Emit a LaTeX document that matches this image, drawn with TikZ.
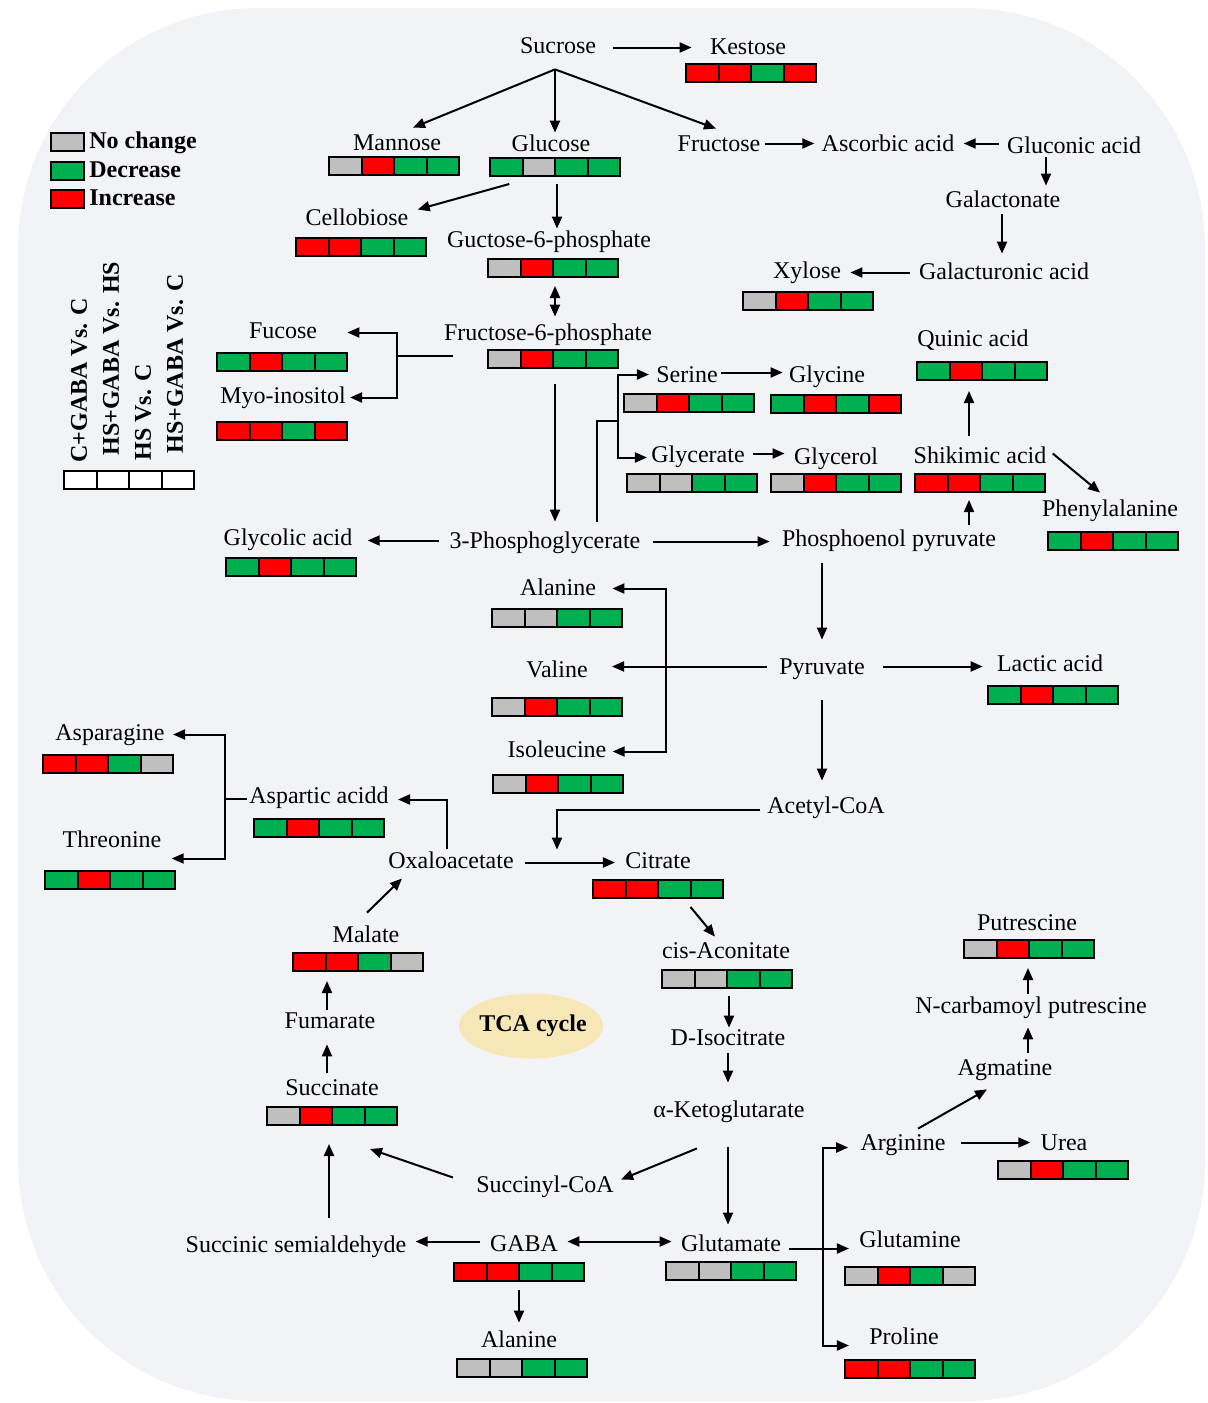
\documentclass[tikz,border=0pt]{standalone}
\usepackage{fontspec}
\setmainfont{Liberation Serif}
\usetikzlibrary{shapes.geometric, arrows.meta, positioning, calc}

\definecolor{decr}{RGB}{0,176,80}
\definecolor{incr}{RGB}{255,0,0}
\definecolor{nochg}{RGB}{191,191,191}
\definecolor{panel}{RGB}{242,243,247}
\definecolor{tcafill}{RGB}{247,231,183}

\tikzstyle{met} = [inner sep=0pt, anchor=base, text height=8pt, text depth=2.5pt]
\tikzstyle{cell} = [rectangle, draw=black, line width=1pt, minimum width=16.25pt, minimum height=9pt, inner sep=0pt, anchor=north west]
\tikzstyle{legtxt} = [inner sep=0pt, anchor=base west, font=\fontsize{12}{14}\selectfont\bfseries]
\tikzstyle{colhead} = [inner sep=0pt, anchor=west, rotate=90, font=\fontsize{12}{14}\selectfont\bfseries]
\tikzstyle{link} = [line width=1pt]
\tikzstyle{arrow} = [line width=1pt, -{Triangle[length=6pt,width=5pt]}]
\tikzstyle{dblarrow} = [line width=1pt, {Triangle[length=6pt,width=5pt]}-{Triangle[length=6pt,width=5pt]}]

\newcommand{\cellbar}[4]{%
    \foreach \cl [count=\i from 0] in {#4}
        \node (#1\i) [cell, fill=\cl] at (#2+\i*32.5,#3) {};
}

\begin{document}
\begin{tikzpicture}[x=0.5pt, y=-0.5pt, font=\fontsize{12}{14}\selectfont]
    \useasboundingbox (0,0) rectangle (1208,1403);
    \fill[panel, rounded corners=120pt] (18,8) rectangle (1205,1401);

    \node (lg1) [cell, fill=nochg] at (50,132) {};
    \node (lg2) [cell, fill=decr] at (50,161) {};
    \node (lg3) [cell, fill=incr] at (50,189) {};
    \node (lgt1) [legtxt] at (89,148) {No change};
    \node (lgt2) [legtxt] at (89,177) {Decrease};
    \node (lgt3) [legtxt] at (89,205) {Increase};

    \node (hd1) [colhead] at (79,463) {C+GABA Vs. C};
    \node (hd2) [colhead] at (111,456) {HS+GABA Vs. HS};
    \node (hd3) [colhead] at (143,461) {HS Vs. C};
    \node (hd4) [colhead] at (175,454) {HS+GABA Vs. C};
    \cellbar{hdb}{63}{470}{white,white,white,white}

    \node (suc) [met] at (558,53) {Sucrose};
    \node (kes) [met] at (748,54) {Kestose};
    \node (man) [met] at (397,150) {Mannose};
    \node (glc) [met] at (551,151) {Glucose};
    \node (fru) [met] at (719,151) {Fructose};
    \node (asc) [met] at (888,151) {Ascorbic acid};
    \node (glcn) [met] at (1074,153) {Gluconic acid};
    \node (galn) [met] at (1003,207) {Galactonate};
    \node (galu) [met] at (1004,279) {Galacturonic acid};
    \node (xyl) [met] at (807,278) {Xylose};
    \node (cel) [met] at (357,225) {Cellobiose};
    \node (g6p) [met] at (549,247) {Guctose-6-phosphate};
    \node (f6p) [met] at (548,340) {Fructose-6-phosphate};
    \node (fuc) [met] at (283,338) {Fucose};
    \node (myo) [met] at (283,403) {Myo-inositol};
    \node (ser) [met] at (687,382) {Serine};
    \node (gly) [met] at (827,382) {Glycine};
    \node (gcr) [met] at (698,462) {Glycerate};
    \node (gol) [met] at (836,464) {Glycerol};
    \node (qui) [met] at (973,346) {Quinic acid};
    \node (shi) [met] at (980,463) {Shikimic acid};
    \node (phe) [met] at (1110,516) {Phenylalanine};
    \node (pep) [met] at (889,546) {Phosphoenol pyruvate};
    \node (pga) [met] at (545,548) {3-Phosphoglycerate};
    \node (gla) [met] at (288,545) {Glycolic acid};
    \node (pyr) [met] at (822,674) {Pyruvate};
    \node (lac) [met] at (1050,671) {Lactic acid};
    \node (aco) [met] at (826,813) {Acetyl-CoA};
    \node (ala) [met] at (558,595) {Alanine};
    \node (val) [met] at (557,677) {Valine};
    \node (ile) [met] at (557,757) {Isoleucine};
    \node (oxa) [met] at (451,868) {Oxaloacetate};
    \node (cit) [met] at (658,868) {Citrate};
    \node (cis) [met] at (726,958) {cis-Aconitate};
    \node (asp) [met] at (319,803) {Aspartic acidd};
    \node (asn) [met] at (110,740) {Asparagine};
    \node (thr) [met] at (112,847) {Threonine};
    \node (mal) [met] at (366,942) {Malate};
    \node (fum) [met] at (330,1028) {Fumarate};
    \node (sct) [met] at (332,1095) {Succinate};
    \node (ssa) [met] at (296,1252) {Succinic semialdehyde};
    \node (sca) [met] at (545,1192) {Succinyl-CoA};
    \node (gaba) [met] at (524,1251) {GABA};
    \node (ala2) [met] at (519,1347) {Alanine};
    \node (isoc) [met] at (728,1045) {D-Isocitrate};
    \node (akg) [met] at (729,1117) {α-Ketoglutarate};
    \node (glu) [met] at (731,1251) {Glutamate};
    \node (gln) [met] at (910,1247) {Glutamine};
    \node (arg) [met] at (903,1150) {Arginine};
    \node (urea) [met] at (1064,1150) {Urea};
    \node (agm) [met] at (1005,1075) {Agmatine};
    \node (ncp) [met] at (1031,1013) {N-carbamoyl putrescine};
    \node (put) [met] at (1027,930) {Putrescine};
    \node (pro) [met] at (904,1344) {Proline};
    \node (tca) [ellipse, fill=tcafill, inner sep=0pt, minimum width=72pt, minimum height=32.5pt, font=\fontsize{12}{14}\selectfont\bfseries] at (531,1026) {\makebox[0pt]{\hspace{2pt}TCA cycle}};

    \cellbar{kesb}{685}{63}{incr,incr,decr,incr}
    \cellbar{manb}{328}{156}{nochg,incr,decr,decr}
    \cellbar{glcb}{489}{157}{decr,nochg,decr,decr}
    \cellbar{celb}{295}{237}{incr,incr,decr,decr}
    \cellbar{g6pb}{487}{258}{nochg,incr,decr,decr}
    \cellbar{f6pb}{487}{349}{nochg,incr,decr,decr}
    \cellbar{xylb}{742}{291}{nochg,incr,decr,decr}
    \cellbar{fucb}{216}{352}{decr,incr,decr,decr}
    \cellbar{myob}{216}{421}{incr,incr,decr,incr}
    \cellbar{serb}{623}{393}{nochg,incr,decr,decr}
    \cellbar{glyb}{770}{394}{decr,incr,decr,incr}
    \cellbar{gcrb}{626}{473}{nochg,nochg,decr,decr}
    \cellbar{golb}{770}{473}{nochg,incr,decr,decr}
    \cellbar{quib}{916}{361}{decr,incr,decr,decr}
    \cellbar{shib}{914}{473}{incr,incr,decr,decr}
    \cellbar{pheb}{1047}{531}{decr,incr,decr,decr}
    \cellbar{glab}{225}{557}{decr,incr,decr,decr}
    \cellbar{alab}{491}{608}{nochg,nochg,decr,decr}
    \cellbar{valb}{491}{697}{nochg,incr,decr,decr}
    \cellbar{ileb}{492}{774}{nochg,incr,decr,decr}
    \cellbar{lacb}{987}{685}{decr,incr,decr,decr}
    \cellbar{asnb}{42}{754}{incr,incr,decr,nochg}
    \cellbar{thrb}{44}{870}{decr,incr,decr,decr}
    \cellbar{aspb}{253}{818}{decr,incr,decr,decr}
    \cellbar{citb}{592}{879}{incr,incr,decr,decr}
    \cellbar{cisb}{661}{969}{nochg,nochg,decr,decr}
    \cellbar{malb}{292}{952}{incr,incr,decr,nochg}
    \cellbar{sctb}{266}{1106}{nochg,incr,decr,decr}
    \cellbar{gabab}{453}{1262}{incr,incr,decr,decr}
    \cellbar{ala2b}{456}{1358}{nochg,nochg,decr,decr}
    \cellbar{glub}{665}{1261}{nochg,nochg,decr,decr}
    \cellbar{putb}{963}{939}{nochg,incr,decr,decr}
    \cellbar{ureab}{997}{1160}{nochg,incr,decr,decr}
    \cellbar{glnb}{844}{1266}{nochg,incr,decr,nochg}
    \cellbar{prob}{844}{1359}{incr,incr,decr,decr}

    \coordinate (fan) at ($(suc.south)+(-3,11)$);
    \coordinate (f6pj) at ($(f6pb0.west)+(-90,-3)$);
    \coordinate (pgaj) at ($(pga.north)+(73,-111)$);
    \coordinate (aaj) at ($(pyr.west -| val.east)+(78,-2)$);
    \coordinate (aspj) at ($(asp.west)+(-24,1)$);
    \coordinate (gluj) at ($(glu.east)+(42,3)$);

    \draw [arrow] ($(suc.east)+(17,0)$) -- ($(suc.east -| kes.west)+(-18,0)$);
    \draw [arrow] (fan) -- ($(man.north)+(16,-6)$);
    \draw [arrow] (fan) -- ($(fan |- glc.north)+(0,-2)$);
    \draw [arrow] (fan) -- ($(fru.north)+(-3,-6)$);
    \draw [arrow] ($(fru.east)+(4,-2)$) -- ($(fru.east -| asc.west)+(-7,-2)$);
    \draw [arrow] ($(glcn.west)+(-8,-4)$) -- ($(glcn.west -| asc.east)+(9,-4)$);
    \draw [arrow] ($(glcn.south)+(-28,-1)$) -- ($(glcn.south |- galn.north)+(-28,-5)$);
    \draw [arrow] ($(galn.south)+(-1,2)$) -- ($(galn.south |- galu.north)+(-1,-9)$);
    \draw [arrow] ($(galu.west)+(-9,-1)$) -- ($(galu.west -| xyl.east)+(9,-1)$);
    \draw [arrow] ($(glcb0.south)+(3,7)$) -- ($(cel.east)+(9,-10)$);
    \draw [arrow] ($(glcb1.south east)+(1,7)$) -- ($(glcb1.south east |- g6p.north)+(1,-2)$);
    \draw [dblarrow] ($(g6pb1.south east)+(1,8)$) -- ($(g6pb1.south east |- f6p.north)+(1,-7)$);

    \draw [link] ($(f6pb0.west)+(-34,-3)$) -- (f6pj);
    \draw [arrow] (f6pj) |- ($(fuc.east)+(30,0)$);
    \draw [arrow] (f6pj) |- ($(myo.east)+(4,0)$);
    \draw [arrow] ($(f6pb1.south east)+(1,15)$) -- ($(f6pb1.south east |- pga.north)+(1,-10)$);

    \draw [link] ($(pga.north)+(52,-10)$) |- (pgaj);
    \draw [arrow] (pgaj) |- ($(ser.west)+(-7,-2)$);
    \draw [arrow] (pgaj) |- ($(gcr.west)+(-4,1)$);
    \draw [arrow] ($(ser.east)+(3,-4)$) -- ($(ser.east -| gly.west)+(-6,-4)$);
    \draw [arrow] ($(gcr.east)+(8,-3)$) -- ($(gcr.east -| gol.west)+(-9,-3)$);
    \draw [arrow] ($(shi.north)+(-11,-11)$) -- ($(shi.north |- quib1.south)+(-11,10)$);
    \draw [arrow] ($(shi.east)+(6,-4)$) -- ($(phe.north)+(-10,-7)$);
    \draw [arrow] ($(pep.north)+(80,-5)$) -- ($(pep.north |- shib1.south)+(80,7)$);
    \draw [arrow] ($(pga.east)+(12,-1)$) -- ($(pga.east -| pep.west)+(-12,-1)$);
    \draw [arrow] ($(pga.west)+(-10,-2)$) -- ($(pga.west -| gla.east)+(15,-2)$);

    \draw [arrow] ($(pep.south -| pyr.north)+(0,12)$) -- ($(pyr.north)+(0,-18)$);
    \draw [arrow] ($(pyr.east)+(18,-2)$) -- ($(pyr.east -| lac.west)+(-14,-2)$);
    \draw [arrow] ($(pyr.south)+(0,21)$) -- ($(pyr.south |- aco.north)+(0,-16)$);
    \draw [arrow] ($(pyr.west)+(-12,-2)$) -- ($(pyr.west -| val.east)+(24,-2)$);
    \draw [arrow] (aaj) |- ($(ala.east)+(16,-1)$);
    \draw [arrow] (aaj) |- ($(ile.east)+(6,0)$);
    \draw [arrow] ($(aco.west)+(-7,2)$) -| ($(cit.north)+(-101,-2)$);

    \draw [arrow] ($(oxa.east)+(11,0)$) -- ($(oxa.east -| cit.west)+(-10,0)$);
    \draw [arrow] ($(oxa.north)+(-4,-3)$) |- ($(asp.east)+(9,2)$);
    \draw [link] ($(asp.west)+(-2,1)$) -- (aspj);
    \draw [arrow] (aspj) |- ($(asn.east)+(8,0)$);
    \draw [arrow] (aspj) |- ($(thr.east)+(10,17)$);
    \draw [arrow] ($(mal.north)+(1,-13)$) -- ($(oxa.west)+(14,16)$);
    \draw [arrow] ($(fum.north)+(-3,-2)$) -- ($(fum.north |- malb0.south)+(-3,9)$);
    \draw [arrow] ($(sct.north)+(-5,-6)$) -- ($(sct.north |- fum.south)+(-5,11)$);
    \draw [arrow] ($(ssa.north)+(33,-18)$) -- ($(ssa.north |- sctb1.south)+(33,18)$);
    \draw [arrow] ($(sca.west)+(-23,-9)$) -- ($(sctb3.south east)+(-28,23)$);
    \draw [arrow] ($(akg.south)+(-32,26)$) -- ($(sca.east)+(7,-7)$);
    \draw [arrow] ($(gaba.west)+(-10,-4)$) -- ($(gaba.west -| ssa.east)+(9,-4)$);
    \draw [dblarrow] ($(gaba.east)+(9,-4)$) -- ($(gaba.east -| glu.west)+(-9,-4)$);
    \draw [arrow] ($(gabab1.south east)+(-1,8)$) -- ($(gabab1.south east |- ala2.north)+(-1,-8)$);

    \draw [arrow] ($(citb2.south east)+(-1,8)$) -- ($(cis.north)+(-11,-5)$);
    \draw [arrow] ($(cisb1.south east)+(1,7)$) -- ($(cisb1.south east |- isoc.north)+(1,-1)$);
    \draw [arrow] ($(isoc.south)+(0,3)$) -- ($(isoc.south |- akg.north)+(0,-18)$);
    \draw [arrow] ($(akg.south)+(-1,25)$) -- ($(akg.south |- glu.north)+(-1,-10)$);

    \draw [arrow] ($(glu.east)+(8,3)$) -- ($(glu.east -| gln.west)+(-10,3)$);
    \draw [arrow] (gluj) |- ($(arg.west)+(-12,3)$);
    \draw [arrow] (gluj) |- ($(pro.west)+(-20,7)$);
    \draw [arrow] ($(arg.east)+(15,-2)$) -- ($(arg.east -| urea.west)+(-10,-2)$);
    \draw [arrow] ($(arg.north)+(15,-5)$) -- ($(agm.south)+(-18,9)$);
    \draw [arrow] ($(agm.north)+(23,-6)$) -- ($(agm.north |- ncp.south)+(23,9)$);
    \draw [arrow] ($(ncp.north)+(-3,-3)$) -- ($(ncp.north |- putb1.south)+(-3,9)$);
\end{tikzpicture}
\end{document}
